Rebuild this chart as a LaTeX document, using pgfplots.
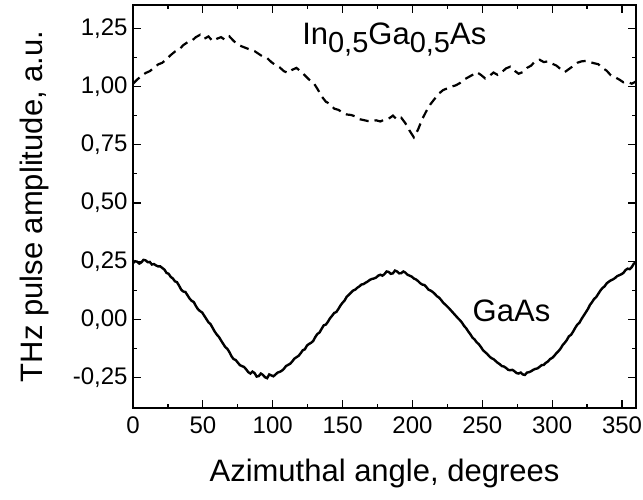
\documentclass[border=0pt]{standalone}
\usepackage{pgfplots}
\pgfplotsset{compat=1.18}
\usepackage{fontspec}
\setmainfont{Liberation Sans}
\begin{document}
\begin{tikzpicture}
\begin{axis}[
  at={(0,0)}, anchor=south west,
  scale only axis, width=503bp, height=403bp,
  xmin=0, xmax=360, ymin=-0.38, ymax=1.35,
  xtick={0,50,...,350}, minor x tick num=1,
  ytick={-0.25,0,0.25,0.5,0.75,1,1.25}, minor y tick num=1,
  tick align=inside, tick pos=both,
  major tick length=8bp, minor tick length=4.5bp,
  every tick/.style={line width=1.2bp, black},
  axis line style={line width=1.4bp},
  /pgf/number format/assume math mode=true,
  yticklabel={\fontsize{24bp}{27bp}\selectfont\pgfmathprintnumber[fixed,fixed zerofill,precision=2,use comma,assume math mode=true]{\tick}},
  xticklabel={\fontsize{24bp}{27bp}\selectfont\pgfmathprintnumber[fixed,precision=0,assume math mode=true]{\tick}},
  yticklabel style={xshift=-2bp},
  xticklabel style={yshift=-5bp},
  xlabel={Azimuthal angle, degrees}, ylabel={THz pulse amplitude, a.u.},
  label style={font=\fontsize{31bp}{34bp}\selectfont},
  xlabel style={yshift=-19bp},
  ylabel style={yshift=17bp},
]
\addplot[black, line width=2.4bp] coordinates {
(0,0.242)(1.5,0.250)(3,0.248)(4.5,0.240)(6,0.245)(7.5,0.256)(9,0.254)(10.5,0.246)(12,0.247)(13.5,0.236)(15,0.238)(16.5,0.232)(18,0.228)(19.5,0.228)(21,0.221)(22.5,0.214)(24,0.200)(25.5,0.196)(27,0.183)(28.5,0.176)
(30,0.164)(31.5,0.160)(33,0.145)(34.5,0.128)(36,0.120)(37.5,0.118)(39,0.104)(40.5,0.090)(42,0.080)(43.5,0.075)(45,0.058)(46.5,0.044)(48,0.036)(49.5,0.030)(51,0.016)(52.5,0.002)(54,-0.012)(55.5,-0.020)(57,-0.036)(58.5,-0.052)
(60,-0.065)(61.5,-0.075)(63,-0.090)(64.5,-0.104)(66,-0.118)(67.5,-0.126)(69,-0.140)(70.5,-0.158)(72,-0.170)(73.5,-0.174)(75,-0.185)(76.5,-0.196)(78,-0.200)(79.5,-0.204)(81,-0.214)(82.5,-0.226)(84,-0.232)(85.5,-0.224)(87,-0.230)(88.5,-0.245)
(90,-0.243)(91.5,-0.232)(93,-0.238)(94.5,-0.248)(96,-0.252)(97.5,-0.236)(99,-0.240)(100.5,-0.244)(102,-0.236)(103.5,-0.228)(105,-0.225)(106.5,-0.220)(108,-0.212)(109.5,-0.200)(111,-0.195)(112.5,-0.190)(114,-0.180)(115.5,-0.168)(117,-0.162)(118.5,-0.156)
(120,-0.145)(121.5,-0.132)(123,-0.128)(124.5,-0.112)(126,-0.105)(127.5,-0.100)(129,-0.092)(130.5,-0.075)(132,-0.062)(133.5,-0.056)(135,-0.040)(136.5,-0.025)(138,-0.022)(139.5,-0.010)(141,0.005)(142.5,0.016)(144,0.028)(145.5,0.032)(147,0.045)(148.5,0.060)
(150,0.072)(151.5,0.082)(153,0.098)(154.5,0.106)(156,0.115)(157.5,0.124)(159,0.128)(160.5,0.136)(162,0.142)(163.5,0.150)(165,0.152)(166.5,0.158)(168,0.163)(169.5,0.170)(171,0.174)(172.5,0.176)(174,0.180)(175.5,0.188)(177,0.192)(178.5,0.188)
(180,0.195)(181.5,0.206)(183,0.204)(184.5,0.196)(186,0.198)(187.5,0.210)(189,0.206)(190.5,0.198)(192,0.199)(193.5,0.206)(195,0.201)(196.5,0.192)(198,0.188)(199.5,0.184)(201,0.176)(202.5,0.172)(204,0.165)(205.5,0.156)(207,0.150)(208.5,0.148)
(210,0.139)(211.5,0.128)(213,0.124)(214.5,0.118)(216,0.110)(217.5,0.100)(219,0.094)(220.5,0.084)(222,0.072)(223.5,0.064)(225,0.055)(226.5,0.046)(228,0.036)(229.5,0.026)(231,0.016)(232.5,0.006)(234,-0.003)(235.5,-0.014)(237,-0.028)(238.5,-0.038)
(240,-0.052)(241.5,-0.064)(243,-0.078)(244.5,-0.086)(246,-0.098)(247.5,-0.106)(249,-0.118)(250.5,-0.132)(252,-0.140)(253.5,-0.148)(255,-0.158)(256.5,-0.166)(258,-0.170)(259.5,-0.178)(261,-0.186)(262.5,-0.192)(264,-0.200)(265.5,-0.202)(267,-0.208)(268.5,-0.216)
(270,-0.218)(271.5,-0.216)(273,-0.222)(274.5,-0.230)(276,-0.232)(277.5,-0.228)(279,-0.236)(280.5,-0.238)(282,-0.228)(283.5,-0.226)(285,-0.222)(286.5,-0.216)(288,-0.212)(289.5,-0.210)(291,-0.203)(292.5,-0.196)(294,-0.195)(295.5,-0.186)(297,-0.180)(298.5,-0.170)
(300,-0.165)(301.5,-0.156)(303,-0.145)(304.5,-0.136)(306,-0.125)(307.5,-0.110)(309,-0.100)(310.5,-0.088)(312,-0.072)(313.5,-0.066)(315,-0.052)(316.5,-0.036)(318,-0.022)(319.5,-0.014)(321,0.002)(322.5,0.016)(324,0.030)(325.5,0.044)(327,0.062)(328.5,0.074)
(330,0.088)(331.5,0.096)(333,0.110)(334.5,0.124)(336,0.135)(337.5,0.142)(339,0.155)(340.5,0.162)(342,0.168)(343.5,0.172)(345,0.178)(346.5,0.186)(348,0.190)(349.5,0.194)(351,0.200)(352.5,0.212)(354,0.218)(355.5,0.216)(357,0.225)(358.5,0.240)(360,0.245)
};
\addplot[black, line width=2.2bp, dash pattern=on 9bp off 6bp] coordinates {
(0,1.012)(3,1.030)(6,1.045)(9,1.058)(12,1.066)(15,1.080)(18,1.095)(21,1.102)(24,1.118)(27,1.135)
(30,1.150)(33,1.158)(36,1.178)(39,1.190)(42,1.196)(45,1.212)(48,1.222)(51,1.205)(54,1.215)(57,1.195)
(60,1.205)(63,1.212)(66,1.200)(69,1.215)(72,1.196)(75,1.180)(78,1.172)(81,1.165)(84,1.158)(87,1.152)
(90,1.140)(93,1.128)(96,1.122)(99,1.105)(102,1.092)(105,1.082)(108,1.066)(111,1.058)(114,1.072)(117,1.080)
(120,1.065)(123,1.048)(126,1.030)(129,1.018)(132,0.990)(135,0.958)(138,0.935)(141,0.925)(144,0.905)(147,0.900)
(150,0.888)(153,0.880)(156,0.878)(159,0.872)(162,0.860)(165,0.856)(168,0.852)(171,0.852)(174,0.855)(177,0.850)
(180,0.858)(183,0.862)(186,0.875)(189,0.858)(192,0.866)(195,0.842)(198,0.810)(201,0.782)(204,0.815)(207,0.860)
(210,0.895)(213,0.925)(216,0.948)(219,0.970)(222,0.985)(225,0.992)(228,1.000)(231,1.005)(234,1.015)(237,1.030)
(240,1.040)(243,1.050)(246,1.062)(249,1.050)(252,1.035)(255,1.045)(258,1.060)(261,1.050)(264,1.062)(267,1.078)
(270,1.085)(273,1.068)(276,1.055)(279,1.062)(282,1.080)(285,1.090)(288,1.110)(291,1.115)(294,1.105)(297,1.108)
(300,1.098)(303,1.090)(306,1.075)(309,1.062)(312,1.075)(315,1.088)(318,1.102)(321,1.108)(324,1.110)(327,1.105)
(330,1.100)(333,1.096)(336,1.080)(339,1.068)(342,1.048)(345,1.040)(348,1.030)(351,1.018)(354,1.020)(357,1.012)(360,1.022)
};
\node[anchor=base west, inner sep=0pt, font=\fontsize{31bp}{34bp}\selectfont] at (axis cs:121,1.18)
  {In\raisebox{-8bp}{\fontsize{29bp}{32bp}\selectfont 0,5}Ga\raisebox{-8bp}{\fontsize{29bp}{32bp}\selectfont 0,5}As};
\node[anchor=base west, inner sep=0pt, font=\fontsize{31bp}{34bp}\selectfont] at (axis cs:243,-0.01) {GaAs};
\end{axis}
\pgfresetboundingbox
\useasboundingbox (-133bp,-92bp) rectangle (510bp,408bp);
\end{tikzpicture}
\end{document}
